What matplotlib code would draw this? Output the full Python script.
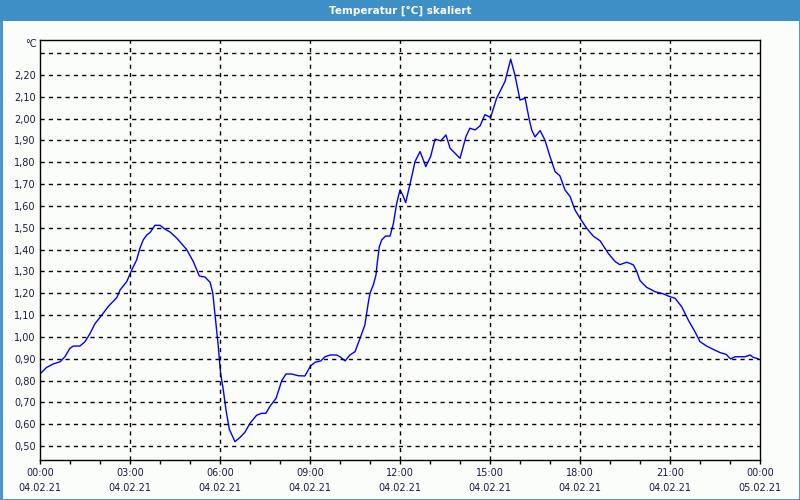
import numpy as np
import matplotlib.pyplot as plt
from matplotlib.patches import Rectangle

# time in hours since 04.02.21 00:00, temperature in degC
hours = [0.0, 0.22, 0.44, 0.67, 0.83, 1.0, 1.11, 1.33, 1.5, 1.67, 1.83, 2.06, 2.28, 2.56,
         2.67, 2.89, 3.06, 3.22, 3.33, 3.44, 3.56, 3.67, 3.83, 4.0, 4.17, 4.33, 4.56, 4.89,
         5.11, 5.31, 5.5, 5.67, 5.76, 5.83, 5.94, 6.02, 6.11, 6.2, 6.31, 6.5, 6.67, 6.83,
         7.0, 7.22, 7.39, 7.53, 7.67, 7.87, 8.06, 8.2, 8.39, 8.61, 8.83, 9.02, 9.17, 9.36,
         9.5, 9.67, 9.89, 10.0, 10.17, 10.33, 10.5, 10.67, 10.83, 10.94, 11.0, 11.11, 11.2,
         11.24, 11.31, 11.39, 11.52, 11.67, 11.78, 11.89, 12.0, 12.09, 12.19, 12.3, 12.39,
         12.5, 12.67, 12.86, 13.02, 13.17, 13.36, 13.53, 13.67, 14.0, 14.2, 14.33, 14.5,
         14.67, 14.83, 15.02, 15.22, 15.5, 15.69, 15.83, 16.0, 16.17, 16.31, 16.39, 16.5,
         16.67, 16.83, 17.0, 17.17, 17.33, 17.5, 17.67, 17.83, 18.0, 18.22, 18.44, 18.67,
         18.94, 19.17, 19.33, 19.56, 19.78, 19.89, 20.0, 20.22, 20.5, 20.78, 21.0, 21.17,
         21.39, 21.61, 21.83, 22.0, 22.22, 22.44, 22.67, 22.87, 23.02, 23.17, 23.5, 23.67,
         23.78, 23.93]
temps = [0.83, 0.86, 0.876, 0.886, 0.909, 0.948, 0.958, 0.958, 0.978, 1.016, 1.06, 1.10, 1.14, 1.18,
         1.215, 1.253, 1.307, 1.352, 1.406, 1.444, 1.467, 1.478, 1.511, 1.511, 1.493, 1.481, 1.452, 1.40,
         1.345, 1.279, 1.274, 1.25, 1.20, 1.108, 0.96, 0.833, 0.757, 0.665, 0.577, 0.52, 0.54, 0.563,
         0.604, 0.641, 0.65, 0.65, 0.683, 0.719, 0.80, 0.83, 0.83, 0.822, 0.821, 0.867, 0.884, 0.89,
         0.909, 0.917, 0.917, 0.909, 0.89, 0.917, 0.932, 0.994, 1.055, 1.154, 1.20, 1.238, 1.284,
         1.337, 1.413, 1.444, 1.462, 1.462, 1.52, 1.612, 1.673, 1.65, 1.615, 1.68, 1.734,
         1.803, 1.849, 1.78, 1.826, 1.906, 1.898, 1.925, 1.864, 1.818, 1.918, 1.956, 1.948,
         1.967, 2.018, 2.005, 2.093, 2.17, 2.272, 2.20, 2.085, 2.093, 1.994, 1.948, 1.916,
         1.945, 1.902, 1.826, 1.757, 1.738, 1.673, 1.643, 1.582, 1.544, 1.498, 1.462, 1.44,
         1.383, 1.345, 1.331, 1.342, 1.33, 1.30, 1.258, 1.227, 1.207, 1.197, 1.184, 1.177,
         1.138, 1.077, 1.024, 0.978, 0.958, 0.943, 0.928, 0.92, 0.899, 0.909, 0.909, 0.917,
         0.906, 0.90]

x_ticks = [0, 3, 6, 9, 12, 15, 18, 21, 24]
x_times = ['00:00', '03:00', '06:00', '09:00', '12:00', '15:00', '18:00', '21:00', '00:00']
x_dates = ['04.02.21'] * 8 + ['05.02.21']
y_ticks = np.arange(0.5, 2.31, 0.1)

txt = '#1c1c3c'
blue_bar = '#3d8fc6'

fig = plt.figure(figsize=(8, 5), dpi=100, facecolor='#fbfdfb')

# title bar and outer frame
fig.patches.append(Rectangle((0, 1 - 21/500), 1, 21/500, transform=fig.transFigure,
                             facecolor=blue_bar, edgecolor='none'))
fig.patches.append(Rectangle((0.5/800, 0.5/500), 799/800, 499/500, transform=fig.transFigure,
                             facecolor='none', edgecolor=blue_bar, linewidth=2))
fig.text(0.5, 1 - 10.5/500, 'Temperatur [°C] skaliert', color='white', fontsize=7.5,
         fontweight='bold', ha='center', va='center')

ax = fig.add_axes([40/800, 40/500, 720/800, 420/500])
ax.set_facecolor('#fbfdfb')
ax.plot(hours, temps, color='#0000ff', linewidth=1)

ax.set_xlim(0, 24)
ax.set_ylim(0.436, 2.36)

ax.set_xticks(x_ticks)
ax.set_xticklabels([])
ax.set_xticks(np.arange(0, 25, 1), minor=True)
ax.tick_params(axis='x', which='both', direction='out', length=3, width=1, color='black')
ax.set_yticks(y_ticks)
ax.set_yticklabels([('%.2f' % v).replace('.', ',') if v < 2.25 else '' for v in y_ticks],
                   fontsize=7, color=txt)
ax.tick_params(axis='y', length=0, pad=3)

for v in y_ticks:
    ax.axhline(v, color='black', linestyle=(0, (3, 3)), linewidth=1)
for h in x_ticks[1:-1]:
    ax.axvline(h, color='black', linestyle=(0, (3, 3)), linewidth=1)

for s in ax.spines.values():
    s.set_color('black')
    s.set_linewidth(1)

for h, t, d in zip(x_ticks, x_times, x_dates):
    ax.text(h, -13/420, t, transform=ax.get_xaxis_transform(), ha='center', va='center',
            fontsize=7, color=txt)
    ax.text(h, -28/420, d, transform=ax.get_xaxis_transform(), ha='center', va='center',
            fontsize=7, color=txt)

fig.text(37/800, 1 - 44/500, '°C', ha='right', va='center', fontsize=7, color=txt)

fig.savefig('out.png', dpi=100, facecolor=fig.get_facecolor())
